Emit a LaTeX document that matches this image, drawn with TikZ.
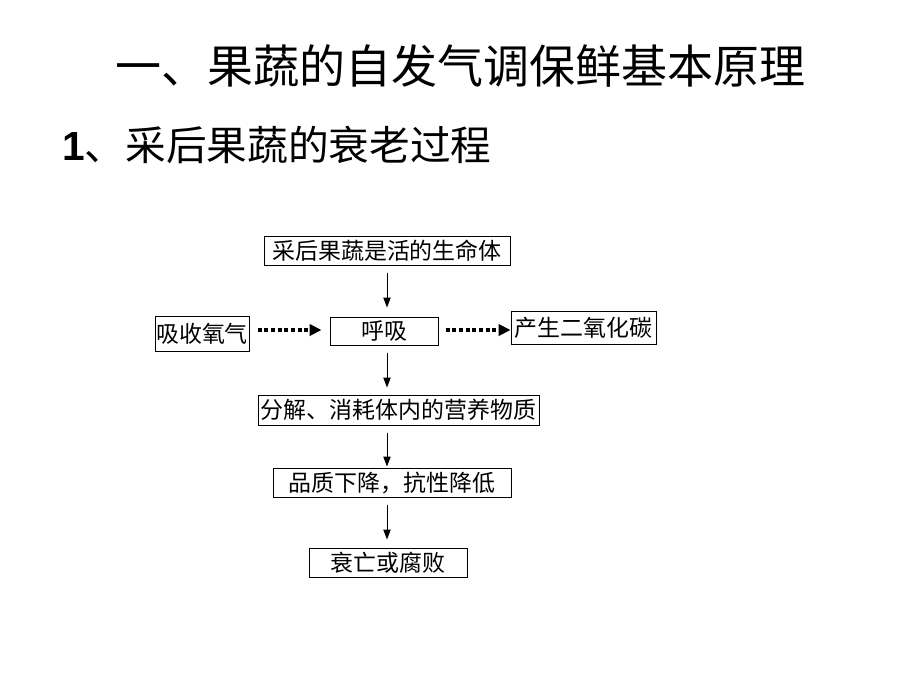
\documentclass[tikz,border=0pt]{standalone}
\usepackage{fontspec}
\setmainfont{Liberation Sans}
\newfontfamily\cjk{Noto Sans CJK SC}
\usetikzlibrary{arrows.meta,calc}
\tikzset{
  px/.style={x=0.75pt,y=-0.75pt},
  flowbox/.style={draw,line width=0.75pt,inner sep=0pt,font=\cjk\fontsize{17.2}{19}\selectfont,anchor=center},
  flowarrow/.style={line width=0.75pt,-{Triangle[length=7.5pt,width=5.5pt]}},
  dotarrow/.style={line width=3pt,dash pattern=on 3pt off 2pt,-{Triangle[length=9pt,width=8.5pt]}},
}
\begin{document}
\begin{tikzpicture}[px]
\useasboundingbox (0,0) rectangle (920,690);
\node[font=\cjk\fontsize{34.5}{40}\selectfont] (title) at (460,66) {一、果蔬的自发气调保鲜基本原理};
\node[anchor=west,inner sep=0pt,font=\fontsize{30.5}{36}\selectfont] (sub) at (62,145) {\textbf{1}\cjk 、采后果蔬的衰老过程};

\node[flowbox,minimum width=184.5pt,minimum height=21.75pt] (b1) at (387,250.5) {采后果蔬是活的生命体};
\node[flowbox,minimum width=70.5pt,minimum height=26.25pt] (l) at (202,333.5) {吸收氧气};
\node[flowbox,minimum width=81pt,minimum height=21pt] (m) at (384,331) {呼吸};
\node[flowbox,minimum width=108.75pt,minimum height=24.75pt] (r) at (583.5,327.5) {产生二氧化碳};
\node[flowbox,minimum width=210.75pt,minimum height=22.5pt] (b3) at (398.5,410) {分解、消耗体内的营养物质};
\node[flowbox,minimum width=178.5pt,minimum height=21.75pt] (b4) at (392,482.5) {品质下降，抗性降低};
\node[flowbox,minimum width=118.5pt,minimum height=21.75pt] (b5) at (388,562.5) {衰亡或腐败};

\coordinate (ax) at (387,0);
\coordinate (ay) at (0,330);
\draw[flowarrow,shorten <=5.25pt,shorten >=6.75pt] (ax |- b1.south) -- (ax |- m.north);
\draw[flowarrow,shorten <=5.25pt,shorten >=5.25pt] (ax |- m.south) -- (ax |- b3.north);
\draw[flowarrow,shorten <=5.25pt,shorten >=0.75pt] (ax |- b3.south) -- (ax |- b4.north);
\draw[flowarrow,shorten <=5.25pt,shorten >=6pt] (ax |- b4.south) -- (ax |- b5.north);
\draw[dotarrow,shorten <=6pt,shorten >=6pt] (l.east |- ay) -- (m.west |- ay);
\draw[dotarrow,shorten <=5.25pt,shorten >=0pt] (m.east |- ay) -- (r.west |- ay);
\end{tikzpicture}
\end{document}
